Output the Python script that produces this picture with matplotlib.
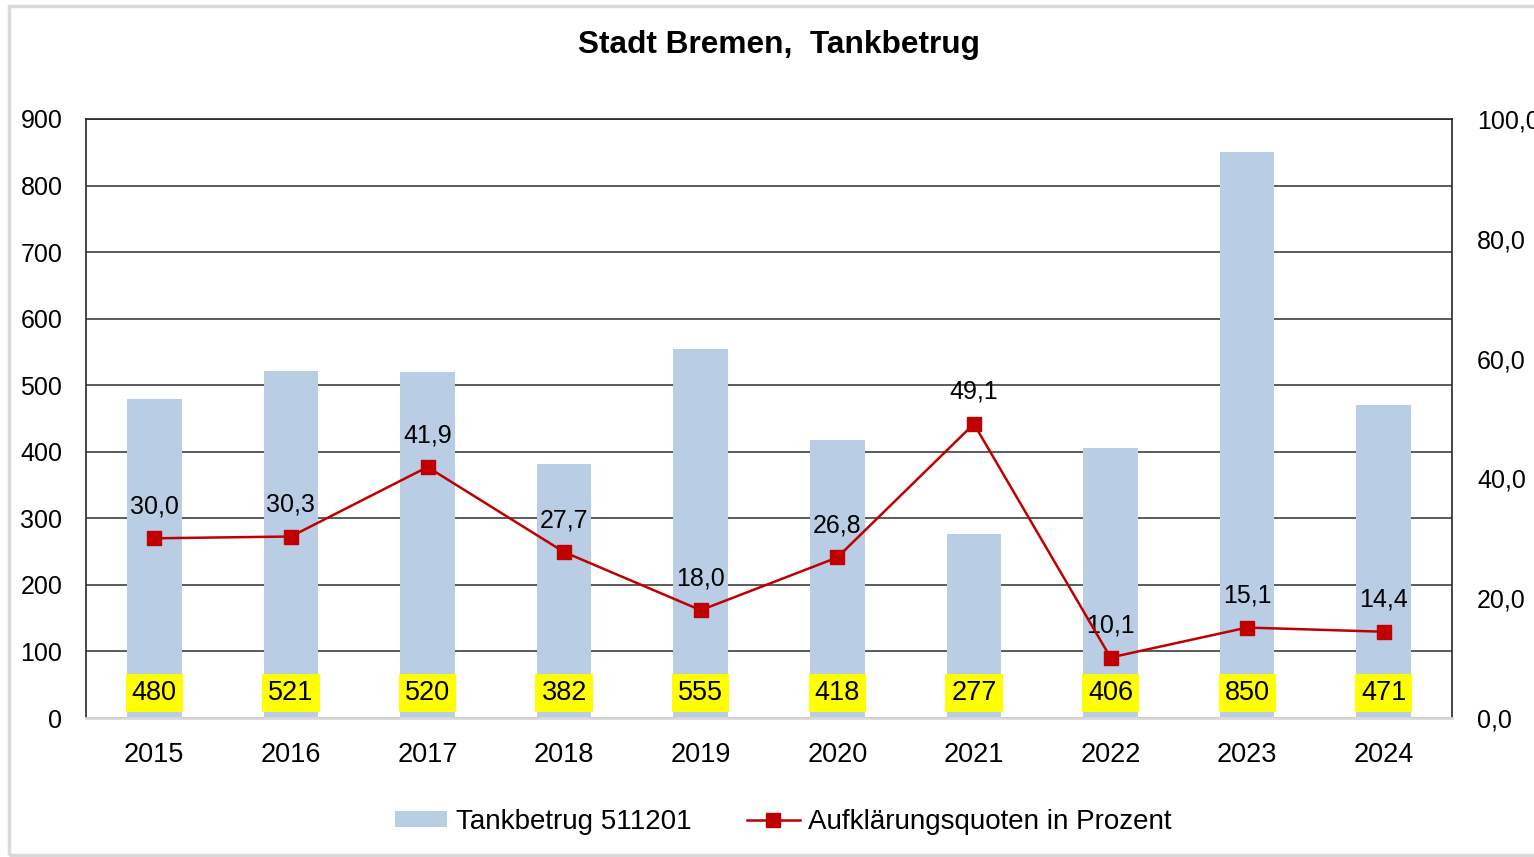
import matplotlib.pyplot as plt
from matplotlib.patches import Rectangle

plt.rcParams['font.family'] = ['Liberation Sans', 'DejaVu Sans']

years = ['2015', '2016', '2017', '2018', '2019', '2020', '2021', '2022', '2023', '2024']
faelle = [480, 521, 520, 382, 555, 418, 277, 406, 850, 471]
quote = [30.0, 30.3, 41.9, 27.7, 18.0, 26.8, 49.1, 10.1, 15.1, 14.4]

fig = plt.figure(figsize=(15.34, 8.57), dpi=100)
# light gray frame around chart
fig.patches.append(Rectangle((9 / 1534, 2 / 857), 1.0, 849 / 857, transform=fig.transFigure,
                             fill=False, edgecolor='#d9d9d9', linewidth=2.5))

ax = fig.add_axes([86 / 1534, 1 - 718 / 857, (1452 - 86) / 1534, (718 - 119) / 857])
x = range(len(years))
ax.bar(x, faelle, width=0.4, color='#b9cde5', label='Tankbetrug 511201', zorder=2)
ax.set_ylim(0, 900)
ax.set_xlim(-0.5, len(years) - 0.5)
ax.set_yticks(range(0, 901, 100))
ax.yaxis.grid(True, color='#404040', linewidth=1.2, zorder=0)
ax.set_axisbelow(True)
ax.set_xticks(list(x))
ax.set_xticklabels(years)
ax.tick_params(axis='x', length=0, labelsize=19.5, pad=17)
ax.tick_params(axis='y', length=0, labelsize=18, pad=17)
for s in ['top', 'left', 'right']:
    ax.spines[s].set_color('#262626')
    ax.spines[s].set_linewidth(1.2)
ax.spines['bottom'].set_color('#d9d9d9')
ax.spines['bottom'].set_linewidth(2)

for i, v in enumerate(faelle):
    ax.text(i, 38, str(v), ha='center', va='center', fontsize=19.5, zorder=5,
            bbox=dict(boxstyle='square,pad=0.22', facecolor='#ffff00', edgecolor='none'))

ax2 = ax.twinx()
ax2.plot(list(x), quote, color='#c00000', linewidth=1.8, marker='s', markersize=10,
         label='Aufklärungsquoten in Prozent', zorder=4)
ax2.set_ylim(0, 100)
ax2.set_yticks(range(0, 101, 20))
ax2.set_yticklabels([f'{v},0' for v in range(0, 101, 20)])
ax2.tick_params(axis='y', length=0, labelsize=18, pad=18)
for s in ax2.spines.values():
    s.set_visible(False)

for i, v in enumerate(quote):
    ax2.annotate(f'{v:.1f}'.replace('.', ','), (i, v), xytext=(0, 23), textcoords='offset points',
                 ha='center', va='center', fontsize=18)

fig.text(779 / 1534, 1 - 45 / 857, 'Stadt Bremen,  Tankbetrug', ha='center', va='center',
         fontsize=22.8, fontweight='bold')

h1, l1 = ax.get_legend_handles_labels()
h2, l2 = ax2.get_legend_handles_labels()
fig.legend(h1 + h2, l1 + l2, loc='center', bbox_to_anchor=(783 / 1534, 1 - 822 / 857), ncol=2,
           frameon=False, fontsize=20, handlelength=1.9, columnspacing=2.0, handletextpad=0.3,
           handleheight=0.5)

fig.savefig('out.png', dpi=100)
